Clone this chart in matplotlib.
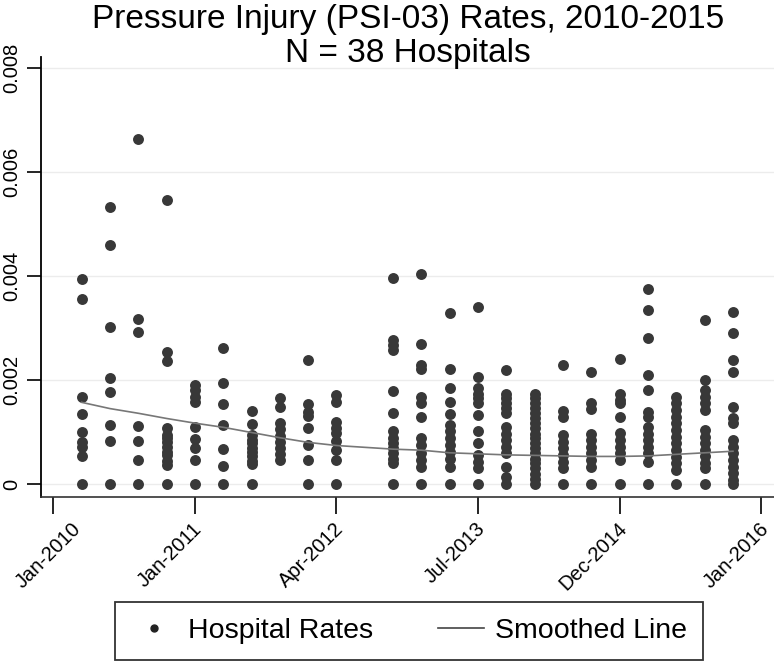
import matplotlib
matplotlib.use("Agg")
import matplotlib.pyplot as plt
import matplotlib.transforms as mtransforms
from matplotlib.lines import Line2D

plt.rcParams['font.family'] = ['Liberation Sans', 'DejaVu Sans']

# ---- data (rates in units of 1e-3) ----
quarters = [1, 2, 3, 4, 5, 6, 7, 8, 9, 10, 12, 13, 14, 15, 16, 17, 18, 19, 20, 21, 22, 23, 24]
rates = [
    [3.94, 3.55, 1.68, 1.35, 1.00, 0.81, 0.72, 0.53, 0],
    [5.33, 4.59, 3.01, 2.03, 1.76, 1.14, 0.83, 0],
    [6.63, 3.17, 2.92, 1.12, 0.82, 0.47, 0],
    [5.47, 2.53, 2.36, 1.07, 0.95, 0.88, 0.80, 0.72, 0.62, 0.55, 0.45, 0.37, 0],
    [1.90, 1.80, 1.68, 1.58, 1.10, 0.87, 0.69, 0.46, 0],
    [2.61, 1.94, 1.53, 1.13, 0.67, 0.35, 0],
    [1.40, 1.15, 0.94, 0.85, 0.78, 0.70, 0.62, 0.53, 0.45, 0.38, 0],
    [1.65, 1.49, 1.17, 1.05, 0.93, 0.80, 0.70, 0.58, 0.46],
    [2.38, 1.53, 1.38, 1.30, 1.07, 0.75, 0.46, 0],
    [1.71, 1.58, 1.19, 1.08, 0.98, 0.83, 0.65, 0.46, 0],
    [3.96, 2.77, 2.67, 2.58, 1.79, 1.36, 1.01, 0.88, 0.78, 0.69, 0.59, 0.49, 0.40, 0],
    [4.04, 2.69, 2.29, 2.22, 1.68, 1.55, 1.28, 0.88, 0.75, 0.59, 0.46, 0.33, 0],
    [3.29, 2.21, 1.84, 1.58, 1.35, 1.13, 1.01, 0.88, 0.75, 0.62, 0.49, 0.33, 0],
    [3.40, 2.06, 1.84, 1.74, 1.65, 1.55, 1.33, 1.01, 0.78, 0.56, 0.43, 0.30, 0],
    [2.19, 1.74, 1.65, 1.55, 1.46, 1.36, 1.10, 0.97, 0.85, 0.72, 0.59, 0.33, 0.14, 0],
    [1.74, 1.65, 1.55, 1.46, 1.36, 1.26, 1.17, 1.07, 0.97, 0.88, 0.78, 0.69, 0.59, 0.49, 0.40, 0.30, 0.20, 0.10, 0],
    [2.29, 1.41, 1.29, 0.94, 0.81, 0.69, 0.56, 0.43, 0.30, 0],
    [2.16, 1.56, 1.44, 0.97, 0.85, 0.72, 0.59, 0.46, 0.33, 0],
    [2.40, 1.73, 1.62, 1.55, 1.28, 0.99, 0.85, 0.72, 0.59, 0.46, 0],
    [3.74, 3.35, 2.80, 2.10, 1.81, 1.39, 1.29, 1.10, 0.97, 0.85, 0.72, 0.59, 0.43, 0],
    [1.68, 1.55, 1.42, 1.29, 1.17, 1.04, 0.91, 0.78, 0.65, 0.52, 0.40, 0.27, 0],
    [3.15, 1.99, 1.81, 1.68, 1.55, 1.42, 1.04, 0.91, 0.78, 0.65, 0.53, 0.40, 0.30, 0],
    [3.31, 2.90, 2.38, 2.16, 1.49, 1.26, 1.17, 0.85, 0.72, 0.59, 0.46, 0.33, 0.21, 0.08, 0],
]
smoothed = [1.57, 1.45, 1.36, 1.26, 1.17, 1.09, 0.99, 0.89, 0.80, 0.74,
            0.67, 0.65, 0.60, 0.58, 0.56, 0.55, 0.54, 0.53, 0.53, 0.54, 0.57, 0.60, 0.63]

tick_pos = [0, 5, 10, 15, 20, 25]
tick_labels = ["Jan-2010", "Jan-2011", "Apr-2012", "Jul-2013", "Dec-2014", "Jan-2016"]
ytick_vals = [0, 0.002, 0.004, 0.006, 0.008]
ytick_labels = ["0", "0.002", "0.004", "0.006", "0.008"]

title1 = "Pressure Injury (PSI-03) Rates, 2010-2015"
title2 = "N = 38 Hospitals"

# ---- figure ----
W, H = 774, 665
fig = plt.figure(figsize=(W / 100, H / 100), dpi=100)
ax = fig.add_axes([41 / W, 1 - 497 / H, 733 / W, 440 / H])

for s in ['top', 'right']:
    ax.spines[s].set_visible(False)
ax.spines['left'].set_linewidth(1.3)
ax.spines['left'].set_color('black')
ax.spines['bottom'].set_linewidth(1.2)
ax.spines['bottom'].set_color('#333333')

xs, ys = [], []
for q, vals in zip(quarters, rates):
    for v in vals:
        xs.append(q)
        ys.append(v * 1e-3)
ax.scatter(xs, ys, s=62, color='#383838', linewidths=0, zorder=3)
ax.plot(quarters, [v * 1e-3 for v in smoothed], color='#777777', lw=1.2, zorder=4)

ax.set_xlim(-0.435, 25.45)
ax.set_ylim(-0.00025, 0.00821)

ax.set_yticks(ytick_vals)
ax.set_yticklabels(ytick_labels, rotation=90, va='center', fontsize=14.5)
ax.set_xticks(tick_pos)
ax.set_xticklabels(tick_labels, rotation=45, ha='right', fontsize=14.5)

ax.yaxis.grid(True, color='#ececec', lw=1)
ax.set_axisbelow(True)

ax.tick_params(axis='y', direction='out', length=10, width=1.2, pad=4, colors='black')
ax.tick_params(axis='x', direction='out', length=12, width=1.2, pad=4, colors='black')

for i, lbl in enumerate(ax.get_xticklabels()):
    dx = 31 if i == 0 else 11
    lbl.set_transform(lbl.get_transform() +
                      mtransforms.ScaledTranslation(dx / 100, 0, fig.dpi_scale_trans))

fig.text(408 / W, 1 - 28 / H, title1, ha='center', va='baseline', fontsize=24)
fig.text(408 / W, 1 - 62 / H, title2, ha='center', va='baseline', fontsize=24)

handles = [Line2D([], [], marker='o', ls='none', color='#222222', markersize=5),
           Line2D([], [], color='#444444', lw=1.2)]
leg = fig.legend(handles, ["Hospital Rates", "Smoothed Line"], loc='center',
                 bbox_to_anchor=(409 / W, 1 - 631 / H), ncol=2, frameon=True,
                 fancybox=False, edgecolor='black', fontsize=20.5,
                 handlelength=1.6, handletextpad=0.4, columnspacing=2.3,
                 borderpad=0.55)
leg.get_frame().set_linewidth(1.3)

fig.savefig("out.png", dpi=100)
